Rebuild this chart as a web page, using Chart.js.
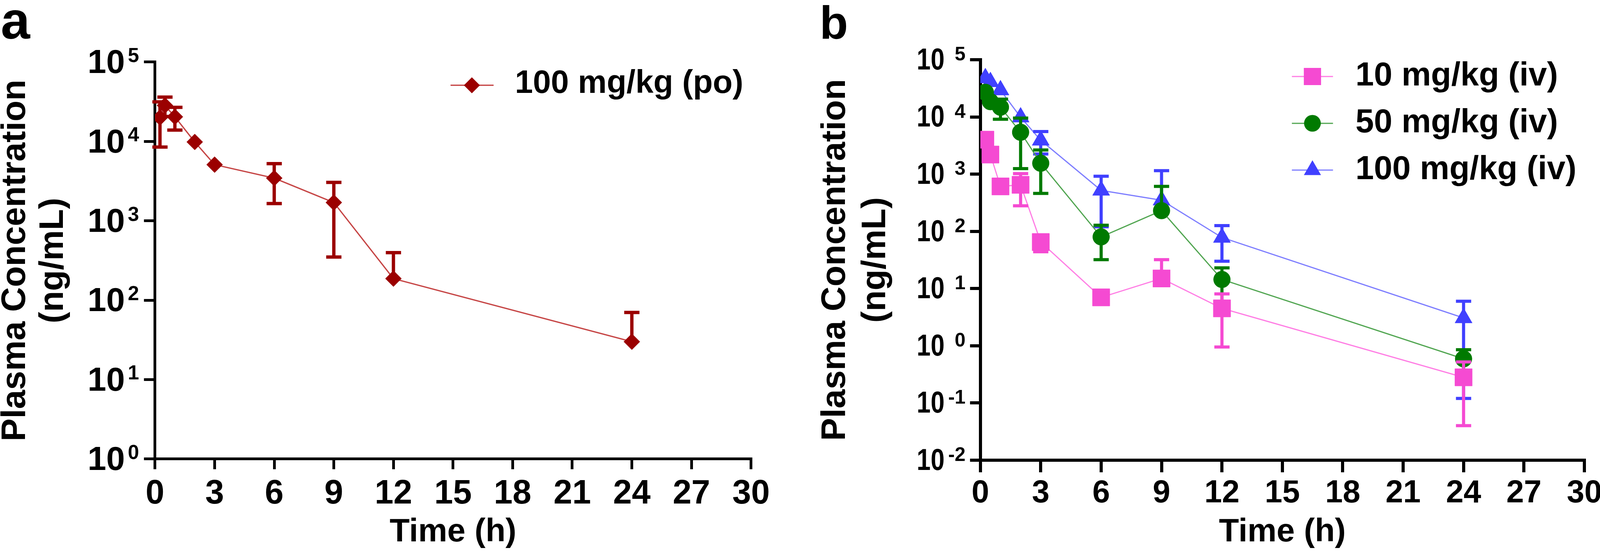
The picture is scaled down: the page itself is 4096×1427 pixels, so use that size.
<!DOCTYPE html>
<html>
<head>
<meta charset="utf-8">
<script src="https://cdn.jsdelivr.net/npm/chart.js@4.4.1/dist/chart.umd.min.js"></script>
<style>
html,body{margin:0;padding:0;background:#fff;overflow:hidden;width:4096px;height:1427px;}
#cA{position:absolute;left:0;top:0;}
#cB{position:absolute;left:2048px;top:0;}
</style>
</head>
<body>
<canvas id="cA" width="2048" height="1427" style="width:2048px;height:1427px"></canvas>
<canvas id="cB" width="2048" height="1427" style="width:2048px;height:1427px"></canvas>
<script>
// ---------------- data ----------------
const panelLabels = ['a', 'b'];
const xTickValues = [0, 3, 6, 9, 12, 15, 18, 21, 24, 27, 30];
const yExpA = [0, 1, 2, 3, 4, 5];
const yExpB = [-2, -1, 0, 1, 2, 3, 4, 5];
const xTitle = 'Time (h)';
const yTitle = ['Plasma Concentration', '(ng/mL)'];

// panel a : 100 mg/kg (po)
const seriesA = ['100 mg/kg (po)'];
const timesA = [0.25, 0.5, 1, 2, 3, 6, 9, 12, 24];
const poMean = [20000, 28400, 20400, 9850, 5100, 3450, 1700, 187, 30];
const poSD   = [11500, 7800, 6500, 0, 0, 1800, 1350, 210, 40];

// panel b : iv doses
const seriesB = ['10 mg/kg (iv)', '50 mg/kg (iv)', '100 mg/kg (iv)'];
const timesB = [0.25, 0.5, 1, 2, 3, 6, 9, 12, 24];
const iv10Mean  = [4000, 2200, 610, 650, 65, 7.0, 15, 4.5, 0.28];
const iv10SD    = [0, 0, 0, 370, 21, 0, 17, 3.55, 0.24];
const iv50Mean  = [27000, 18500, 14800, 5400, 1550, 80, 230, 14.4, 0.59];
const iv50SD    = [0, 0, 5700, 4150, 1090, 48, 380, 8.6, 0.26];
const iv100Mean = [48000, 41000, 29500, 9900, 3900, 520, 350, 78, 3.06];
const iv100SD   = [0, 0, 0, 0, 1650, 400, 800, 48, 2.94];

// ---------------- styling ----------------
const S = 0.975;
const FONT = '"Liberation Sans", Arial, Helvetica, sans-serif';
Chart.defaults.font.family = FONT;
Chart.defaults.color = '#000';

function pts(t, v) { return t.map((x, i) => ({x: x, y: v[i]})); }

function drawMarker(ctx, style, x, y, r, color) {
  ctx.save();
  ctx.fillStyle = color;
  ctx.beginPath();
  if (style === 'rectRot') {
    ctx.moveTo(x - r, y); ctx.lineTo(x, y - r); ctx.lineTo(x + r, y); ctx.lineTo(x, y + r);
    ctx.closePath();
  } else if (style === 'rect') {
    const s = r * Math.SQRT1_2;
    ctx.rect(x - s, y - s, 2 * s, 2 * s);
  } else if (style === 'circle') {
    ctx.arc(x, y, r, 0, Math.PI * 2);
  } else if (style === 'triangle') {
    ctx.moveTo(x, y - r);
    ctx.lineTo(x + r * Math.sin(2 * Math.PI / 3), y - r * Math.cos(2 * Math.PI / 3));
    ctx.lineTo(x + r * Math.sin(4 * Math.PI / 3), y - r * Math.cos(4 * Math.PI / 3));
    ctx.closePath();
  }
  ctx.fill();
  ctx.restore();
}

function makePanel(canvas, cfg) {
  const W = canvas.width, H = canvas.height;
  const plugin = {
    id: 'panelExtras' + cfg.letter,
    afterDatasetDraw(chart, args) {
      const e = cfg.errors[args.index];
      if (!e) return;
      const ctx = chart.ctx, xs = chart.scales.x, ys = chart.scales.y;
      ctx.save();
      ctx.strokeStyle = e.color;
      ctx.lineWidth = cfg.barWidth;
      ctx.lineCap = 'butt';
      for (let i = 0; i < e.t.length; i++) {
        const sd = e.sd[i];
        if (!(sd > 0)) continue;
        const x = xs.getPixelForValue(e.t[i]);
        const yM = ys.getPixelForValue(e.m[i]);
        const yT = ys.getPixelForValue(e.m[i] + sd);
        ctx.beginPath();
        ctx.moveTo(x, yM); ctx.lineTo(x, yT);
        ctx.moveTo(x - cfg.capHalf, yT); ctx.lineTo(x + cfg.capHalf, yT);
        const lo = e.m[i] - sd;
        if (lo > 0) {
          const yB = ys.getPixelForValue(lo);
          ctx.moveTo(x, yM); ctx.lineTo(x, yB);
          ctx.moveTo(x - cfg.capHalf, yB); ctx.lineTo(x + cfg.capHalf, yB);
        }
        ctx.stroke();
      }
      ctx.restore();
    },
    afterDraw(chart) {
      const ctx = chart.ctx, ys = chart.scales.y;
      ctx.save();
      ctx.fillStyle = '#000';
      // y tick labels 10^n
      ctx.textBaseline = 'alphabetic';
      cfg.yExp.forEach(e => {
        const y = ys.getPixelForValue(Math.pow(10, e));
        ctx.font = 'bold ' + cfg.yl.base + 'px ' + FONT;
        ctx.textAlign = 'right';
        ctx.save();
        ctx.translate(cfg.yl.baseRight, y + cfg.yl.baseDy);
        ctx.scale(cfg.yl.scaleX, 1);
        ctx.fillText('10', 0, 0);
        ctx.restore();
        ctx.font = 'bold ' + cfg.yl.sup + 'px ' + FONT;
        ctx.fillText(String(e), cfg.yl.supRight, y + cfg.yl.supDy);
      });
      // panel letter
      ctx.font = 'bold ' + cfg.letterSize + 'px ' + FONT;
      ctx.textAlign = 'left';
      ctx.fillText(cfg.letter, cfg.letterX, cfg.letterY);
      // legend
      cfg.legend.forEach(it => {
        ctx.strokeStyle = it.line;
        ctx.lineWidth = cfg.lineWidth;
        ctx.beginPath();
        ctx.moveTo(cfg.leg.x1, it.y); ctx.lineTo(cfg.leg.x2, it.y);
        ctx.stroke();
        drawMarker(ctx, it.style, cfg.leg.xm, it.y, it.r, it.color);
        ctx.fillStyle = '#000';
        ctx.font = 'bold ' + cfg.leg.size + 'px ' + FONT;
        ctx.textAlign = 'left';
        ctx.textBaseline = 'middle';
        ctx.fillText(it.label, cfg.leg.xt, it.y + cfg.leg.dy);
        ctx.textBaseline = 'alphabetic';
      });
      ctx.restore();
    }
  };

  return new Chart(canvas, {
    type: 'scatter',
    data: {datasets: cfg.datasets},
    options: {
      responsive: false,
      devicePixelRatio: 1,
      animation: false,
      layout: {padding: {left: 0, top: cfg.area.top, right: W - cfg.area.right, bottom: 0}},
      plugins: {legend: {display: false}, tooltip: {enabled: false}},
      scales: {
        x: {
          type: 'linear', min: 0, max: 30,
          afterBuildTicks: s => { s.ticks = xTickValues.map(v => ({value: v})); },
          afterFit: s => { s.height = H - cfg.area.bottom; s.paddingLeft = 0; s.paddingRight = 0; },
          grid: {display: true, drawOnChartArea: false, drawTicks: true, tickLength: cfg.xTickLen,
                 color: '#000', lineWidth: cfg.axisW, tickWidth: cfg.axisW},
          border: {display: true, color: '#000', width: cfg.axisW},
          ticks: {color: '#000', autoSkip: false, maxRotation: 0, padding: cfg.xTickPad,
                  font: {family: FONT, weight: 'bold', size: cfg.xTickSize, lineHeight: 1.2},
                  callback: v => String(v)},
          title: {display: true, text: xTitle, color: '#000',
                  font: {family: FONT, weight: 'bold', size: cfg.xTitleSize, lineHeight: 1.2},
                  padding: {top: 0, bottom: cfg.xTitlePad}}
        },
        y: {
          type: 'logarithmic', min: Math.pow(10, cfg.yExp[0]), max: Math.pow(10, cfg.yExp[cfg.yExp.length - 1]),
          afterBuildTicks: s => { s.ticks = cfg.yExp.map(e => ({value: Math.pow(10, e)})); },
          afterFit: s => { s.width = cfg.area.left; s.paddingTop = 0; s.paddingBottom = 0; },
          grid: {display: true, drawOnChartArea: false, drawTicks: true, tickLength: cfg.yTickLen,
                 color: '#000', lineWidth: cfg.axisW, tickWidth: cfg.axisW},
          border: {display: true, color: '#000', width: cfg.axisW},
          ticks: {display: false},
          title: {display: true, text: yTitle, color: '#000',
                  font: {family: FONT, weight: 'bold', size: cfg.yTitleSize, lineHeight: cfg.yTitleLH},
                  padding: {top: cfg.yTitlePad, bottom: 0}}
        }
      }
    },
    plugins: [plugin]
  });
}

// ---------- panel a ----------
const redM = '#9b0000', redL = 'rgb(198,70,70)';
makePanel(document.getElementById('cA'), {
  letter: panelLabels[0], letterSize: 138 * S, letterX: 2 * S, letterY: 102 * S,
  area: {left: 407 * S, right: 1972 * S, top: 163 * S, bottom: 1206 * S},
  yExp: yExpA,
  axisW: 7, xTickLen: 27 * S, yTickLen: 29 * S,
  xTickSize: 88.5 * S, xTickPad: 12,
  xTitleSize: 86 * S, xTitlePad: 12.9,
  yTitleSize: 90 * S, yTitleLH: 1.1, yTitlePad: -8.3,
  yl: {base: 88 * S, baseRight: 328 * S, baseDy: 29 * S, scaleX: 1, sup: 53 * S, supRight: 365 * S, supDy: 0},
  barWidth: 8.5, capHalf: 20 * S, lineWidth: 3.4,
  errors: [{t: timesA, m: poMean, sd: poSD, color: redM}],
  legend: [{label: seriesA[0], y: 224 * S, style: 'rectRot', r: 21 * S, color: redM, line: redL}],
  leg: {x1: 1183 * S, x2: 1296 * S, xm: 1239 * S, xt: 1352 * S, size: 85 * S, dy: -3},
  datasets: [{
    label: seriesA[0], data: pts(timesA, poMean), showLine: true,
    borderColor: redL, borderWidth: 3.4,
    pointStyle: 'rectRot', pointRadius: 21 * S, pointBackgroundColor: redM, pointBorderColor: redM, pointBorderWidth: 1
  }]
});

// ---------- panel b ----------
const OB = 2048;
const pinkM = '#f54ad2', pinkL = 'rgb(255,125,228)';
const greenM = '#007a00', greenL = 'rgb(80,165,80)';
const blueM = '#4040ff', blueL = 'rgb(125,125,255)';
makePanel(document.getElementById('cB'), {
  letter: panelLabels[1], letterSize: 122 * S, letterX: 2152 * S - OB, letterY: 102 * S,
  area: {left: 2574 * S - OB, right: 4160 * S - OB, top: 157 * S, bottom: 1209 * S},
  yExp: yExpB,
  axisW: 8, xTickLen: 32 * S, yTickLen: 27 * S,
  xTickSize: 83 * S, xTickPad: 6.6,
  xTitleSize: 86 * S, xTitlePad: 12.9,
  yTitleSize: 90 * S, yTitleLH: 1.165, yTitlePad: 40.1,
  yl: {base: 80 * S, baseRight: 2480 * S - OB, baseDy: 25.5 * S, scaleX: 0.82, sup: 51 * S, supRight: 2535 * S - OB, supDy: 2},
  barWidth: 8, capHalf: 20 * S, lineWidth: 3,
  errors: [
    {t: timesB, m: iv10Mean, sd: iv10SD, color: pinkM},
    {t: timesB, m: iv50Mean, sd: iv50SD, color: greenM},
    {t: timesB, m: iv100Mean, sd: iv100SD, color: blueM}
  ],
  legend: [
    {label: seriesB[0], y: 201 * S, style: 'rect', r: 32 * S, color: pinkM, line: pinkL},
    {label: seriesB[1], y: 324 * S, style: 'circle', r: 22 * S, color: greenM, line: greenL},
    {label: seriesB[2], y: 447 * S, style: 'triangle', r: 26 * S, color: blueM, line: blueL}
  ],
  leg: {x1: 3392 * S - OB, x2: 3500 * S - OB, xm: 3446 * S - OB, xt: 3559 * S - OB, size: 87 * S, dy: 0},
  datasets: [
    {label: seriesB[0], data: pts(timesB, iv10Mean), showLine: true, borderColor: pinkL, borderWidth: 3,
     pointStyle: 'rect', pointRadius: 32 * S, pointBackgroundColor: pinkM, pointBorderColor: pinkM, pointBorderWidth: 1},
    {label: seriesB[1], data: pts(timesB, iv50Mean), showLine: true, borderColor: greenL, borderWidth: 3,
     pointStyle: 'circle', pointRadius: 22 * S, pointBackgroundColor: greenM, pointBorderColor: greenM, pointBorderWidth: 1},
    {label: seriesB[2], data: pts(timesB, iv100Mean), showLine: true, borderColor: blueL, borderWidth: 3,
     pointStyle: 'triangle', pointRadius: 26 * S, pointBackgroundColor: blueM, pointBorderColor: blueM, pointBorderWidth: 1}
  ]
});
</script>
</body>
</html>
